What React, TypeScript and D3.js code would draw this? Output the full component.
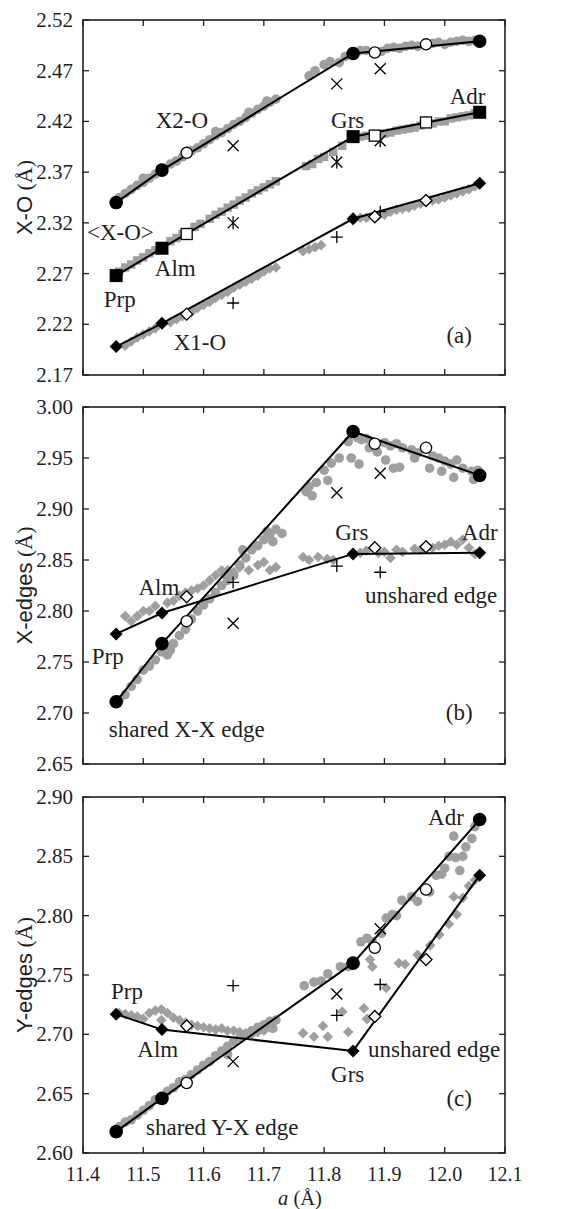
import React from "react";
import * as d3 from "d3";

type Pt = [number, number];

// lattice parameter a (Å) of the end-members Prp, Alm, Grs, Adr
const endA = [11.455, 11.531, 11.848, 12.058];
const openA = [11.572, 11.884, 11.969];
const crossA = [11.649, 11.821, 11.893];
const xTicks = [11.4, 11.5, 11.6, 11.7, 11.8, 11.9, 12.0, 12.1];
const xTickLabels = ["11.4", "11.5", "11.6", "11.7", "11.8", "11.9", "12.0", "12.1"];

// ---- panel (a) X-O
const aTicks = [2.17, 2.22, 2.27, 2.32, 2.37, 2.42, 2.47, 2.52];
const x2oFilled = [2.340, 2.372, 2.487, 2.499];
const x2oOpen = [2.389, 2.488, 2.496];
const x2oCross = [2.396, 2.457, 2.472];
const x2oGray: Pt[] = [
  [11.46, 2.345], [11.47, 2.349], [11.48, 2.353], [11.49, 2.357], [11.5, 2.36], [11.5, 2.364],
  [11.51, 2.364], [11.52, 2.368], [11.53, 2.374], [11.545, 2.378], [11.555, 2.381], [11.565, 2.385],
  [11.57, 2.39], [11.58, 2.391], [11.59, 2.394], [11.6, 2.398], [11.61, 2.402], [11.62, 2.406],
  [11.62, 2.41], [11.63, 2.409], [11.64, 2.413], [11.65, 2.417], [11.66, 2.42], [11.67, 2.424],
  [11.675, 2.429], [11.68, 2.428], [11.69, 2.432], [11.7, 2.435], [11.705, 2.44], [11.71, 2.439],
  [11.72, 2.442], [11.775, 2.465], [11.785, 2.47], [11.8, 2.476], [11.81, 2.479], [11.825, 2.478],
  [11.835, 2.484], [11.86, 2.49], [11.87, 2.49], [11.895, 2.489], [11.905, 2.492], [11.915, 2.493],
  [11.925, 2.492], [11.935, 2.494], [11.945, 2.495], [11.955, 2.494], [11.98, 2.497], [11.99, 2.498],
  [12.0, 2.496], [12.01, 2.498], [12.02, 2.499], [12.03, 2.5], [12.04, 2.499], [12.05, 2.5],
];
const xoFilled = [2.268, 2.295, 2.405, 2.429];
const xoOpen = [2.309, 2.406, 2.419];
const xoStar = [2.32, 2.38, 2.401];
const xoGray: Pt[] = [
  [11.46, 2.272], [11.47, 2.276], [11.48, 2.279], [11.49, 2.283], [11.5, 2.286], [11.51, 2.29],
  [11.52, 2.293], [11.545, 2.302], [11.555, 2.305], [11.565, 2.309], [11.585, 2.316], [11.595, 2.319],
  [11.61, 2.324], [11.62, 2.328], [11.63, 2.331], [11.64, 2.335], [11.65, 2.338], [11.66, 2.342],
  [11.67, 2.345], [11.68, 2.349], [11.69, 2.352], [11.7, 2.355], [11.71, 2.358], [11.72, 2.361],
  [11.77, 2.376], [11.78, 2.378], [11.79, 2.383], [11.8, 2.385], [11.815, 2.39], [11.83, 2.396],
  [11.86, 2.405], [11.87, 2.406], [11.89, 2.405], [11.9, 2.408], [11.91, 2.409], [11.92, 2.411],
  [11.93, 2.412], [11.94, 2.413], [11.95, 2.414], [11.96, 2.416], [11.98, 2.418], [11.99, 2.42],
  [12.0, 2.42], [12.01, 2.423], [12.02, 2.424], [12.03, 2.425], [12.04, 2.426], [12.05, 2.428],
];
const x1oFilled = [2.198, 2.221, 2.324, 2.359];
const x1oOpen = [2.23, 2.326, 2.342];
const x1oPlus = [2.241, 2.306, 2.331];
const x1oGray: Pt[] = [
  [11.47, 2.199], [11.48, 2.203], [11.49, 2.207], [11.5, 2.21], [11.51, 2.213], [11.52, 2.216],
  [11.545, 2.222], [11.555, 2.225], [11.565, 2.228], [11.58, 2.232], [11.59, 2.236], [11.6, 2.239],
  [11.61, 2.242], [11.62, 2.246], [11.63, 2.249], [11.64, 2.252], [11.65, 2.256], [11.66, 2.259],
  [11.67, 2.262], [11.68, 2.265], [11.69, 2.268], [11.7, 2.272], [11.71, 2.275], [11.72, 2.276],
  [11.765, 2.292], [11.775, 2.294], [11.785, 2.296], [11.795, 2.298], [11.86, 2.325], [11.87, 2.325],
  [11.89, 2.327], [11.9, 2.328], [11.91, 2.331], [11.92, 2.333], [11.93, 2.334], [11.94, 2.335],
  [11.95, 2.337], [11.96, 2.339], [11.98, 2.342], [11.99, 2.343], [12.0, 2.345], [12.01, 2.347],
  [12.02, 2.349], [12.03, 2.351], [12.04, 2.353], [12.05, 2.356],
];

// ---- panel (b) X-edges
const bTicks = [2.65, 2.7, 2.75, 2.8, 2.85, 2.9, 2.95, 3.0];
const sharedXFilled = [2.711, 2.768, 2.976, 2.933];
const sharedXOpen = [2.79, 2.964, 2.96];
const sharedXCross = [2.788, 2.916, 2.935];
const sharedXGray: Pt[] = [
  [11.46, 2.713], [11.47, 2.718], [11.48, 2.726], [11.49, 2.733], [11.5, 2.742], [11.51, 2.746],
  [11.52, 2.752], [11.53, 2.76], [11.54, 2.757], [11.545, 2.762], [11.55, 2.768], [11.56, 2.776],
  [11.57, 2.782], [11.58, 2.792], [11.59, 2.8], [11.6, 2.806], [11.61, 2.812], [11.62, 2.818],
  [11.63, 2.825], [11.635, 2.836], [11.64, 2.83], [11.65, 2.835], [11.66, 2.845], [11.665, 2.86],
  [11.67, 2.852], [11.68, 2.86], [11.69, 2.864], [11.7, 2.87], [11.705, 2.878], [11.71, 2.875],
  [11.715, 2.868], [11.72, 2.88], [11.73, 2.876], [11.77, 2.917], [11.775, 2.922], [11.78, 2.913],
  [11.787, 2.926], [11.8, 2.938], [11.806, 2.928], [11.812, 2.945], [11.825, 2.95], [11.84, 2.966],
  [11.845, 2.95], [11.855, 2.97], [11.858, 2.944], [11.862, 2.968], [11.87, 2.969], [11.875, 2.96],
  [11.888, 2.956], [11.9, 2.965], [11.902, 2.948], [11.91, 2.962], [11.915, 2.94], [11.92, 2.964],
  [11.925, 2.941], [11.93, 2.96], [11.945, 2.958], [11.95, 2.95], [11.955, 2.955], [11.975, 2.94],
  [11.98, 2.952], [11.99, 2.95], [11.995, 2.937], [12.0, 2.947], [12.01, 2.944], [12.015, 2.931],
  [12.02, 2.948], [12.03, 2.94], [12.045, 2.937], [12.048, 2.929], [12.055, 2.938],
];
const unsharedXFilled = [2.7775, 2.798, 2.856, 2.857];
const unsharedXOpen = [2.814, 2.862, 2.863];
const unsharedXPlus = [2.828, 2.844, 2.838];
const unsharedXGray: Pt[] = [
  [11.47, 2.795], [11.48, 2.79], [11.49, 2.795], [11.5, 2.8], [11.51, 2.8], [11.52, 2.805],
  [11.54, 2.808], [11.55, 2.81], [11.56, 2.815], [11.57, 2.818], [11.58, 2.82], [11.59, 2.822],
  [11.6, 2.825], [11.61, 2.83], [11.62, 2.835], [11.63, 2.84], [11.64, 2.84], [11.65, 2.838],
  [11.66, 2.843], [11.675, 2.84], [11.69, 2.845], [11.7, 2.848], [11.71, 2.84], [11.72, 2.843],
  [11.765, 2.853], [11.775, 2.85], [11.79, 2.853], [11.805, 2.851], [11.815, 2.85], [11.86, 2.857],
  [11.87, 2.859], [11.89, 2.857], [11.9, 2.858], [11.91, 2.852], [11.92, 2.86], [11.93, 2.858],
  [11.95, 2.861], [11.96, 2.86], [11.98, 2.862], [11.99, 2.864], [12.0, 2.865], [12.01, 2.868],
  [12.02, 2.865], [12.03, 2.87], [12.04, 2.862], [12.05, 2.856],
];

// ---- panel (c) Y-edges
const cTicks = [2.6, 2.65, 2.7, 2.75, 2.8, 2.85, 2.9];
const sharedYFilled = [2.618, 2.646, 2.76, 2.881];
const sharedYOpen = [2.659, 2.773, 2.822];
const sharedYCross = [2.677, 2.734, 2.789];
const sharedYGray: Pt[] = [
  [11.46, 2.622], [11.47, 2.626], [11.48, 2.628], [11.49, 2.632], [11.5, 2.636], [11.51, 2.64],
  [11.52, 2.645], [11.54, 2.652], [11.55, 2.655], [11.56, 2.66], [11.57, 2.662], [11.58, 2.666],
  [11.59, 2.67], [11.6, 2.674], [11.61, 2.677], [11.62, 2.682], [11.63, 2.686], [11.64, 2.683],
  [11.64, 2.69], [11.65, 2.694], [11.66, 2.697], [11.67, 2.7], [11.68, 2.703], [11.69, 2.706],
  [11.7, 2.708], [11.71, 2.711], [11.715, 2.705], [11.72, 2.712], [11.767, 2.741], [11.783, 2.744],
  [11.795, 2.745], [11.806, 2.751], [11.827, 2.757], [11.84, 2.757], [11.861, 2.778], [11.871, 2.781],
  [11.88, 2.778], [11.895, 2.785], [11.903, 2.798], [11.913, 2.801], [11.92, 2.8], [11.929, 2.813],
  [11.945, 2.816], [11.955, 2.812], [11.975, 2.82], [11.986, 2.834], [11.995, 2.835], [12.0, 2.84],
  [12.007, 2.85], [12.015, 2.867], [12.018, 2.849], [12.025, 2.838], [12.03, 2.85], [12.035, 2.858],
  [12.045, 2.865], [12.05, 2.875],
];
const unsharedYFilled = [2.717, 2.704, 2.686, 2.834];
const unsharedYOpen = [2.707, 2.715, 2.763];
const unsharedYPlus = [2.741, 2.716, 2.742];
const unsharedYGray: Pt[] = [
  [11.46, 2.718], [11.47, 2.717], [11.48, 2.716], [11.49, 2.715], [11.5, 2.713], [11.51, 2.718],
  [11.52, 2.72], [11.53, 2.721], [11.53, 2.712], [11.54, 2.718], [11.55, 2.714], [11.56, 2.712],
  [11.57, 2.71], [11.58, 2.708], [11.59, 2.707], [11.6, 2.706], [11.61, 2.705], [11.62, 2.704],
  [11.63, 2.705], [11.64, 2.703], [11.65, 2.703], [11.66, 2.702], [11.67, 2.701], [11.68, 2.7],
  [11.69, 2.702], [11.7, 2.703], [11.71, 2.706], [11.765, 2.701], [11.783, 2.698], [11.798, 2.707],
  [11.806, 2.698], [11.83, 2.719], [11.84, 2.702], [11.866, 2.722], [11.871, 2.713], [11.876, 2.763],
  [11.88, 2.757], [11.903, 2.739], [11.924, 2.76], [11.934, 2.759], [11.955, 2.767], [11.976, 2.775],
  [11.991, 2.784], [12.007, 2.793], [12.015, 2.816], [12.02, 2.801], [12.03, 2.815], [12.04, 2.825],
  [12.05, 2.83],
];

const GRAY = "#9f9f9f";
const INK = "#1e1e1e";
const SERIF = "Liberation Serif";
const SANS = "Liberation Sans";

const x = d3.scaleLinear().domain([11.4, 12.1]).range([83, 505]);

type Group = {
  gray: Pt[]; grayShape: string;
  filled: number[]; filledShape: string;
  open: number[]; openShape: string;
  marks: number[]; markShape: string;
};
type Label = { t: string; a: number; v: number; anchor?: string };

const panels = [
  {
    id: "a", domain: [2.17, 2.52], range: [375, 20], ticks: aTicks, title: "X-O",
    groups: [
      { gray: x2oGray, grayShape: "gdot", filled: x2oFilled, filledShape: "circle", open: x2oOpen, openShape: "ocircle", marks: x2oCross, markShape: "x" },
      { gray: xoGray, grayShape: "gsq", filled: xoFilled, filledShape: "square", open: xoOpen, openShape: "osquare", marks: xoStar, markShape: "star" },
      { gray: x1oGray, grayShape: "gdia", filled: x1oFilled, filledShape: "diamond", open: x1oOpen, openShape: "odiamond", marks: x1oPlus, markShape: "plus" },
    ] as Group[],
    labels: [
      { t: "X2-O", a: 11.564, v: 2.414 }, { t: "Grs", a: 11.839, v: 2.414 }, { t: "Adr", a: 12.038, v: 2.437 },
      { t: "<X-O>", a: 11.462, v: 2.303 }, { t: "Alm", a: 11.553, v: 2.268 }, { t: "Prp", a: 11.461, v: 2.237 },
      { t: "X1-O", a: 11.594, v: 2.195 }, { t: "(a)", a: 12.024, v: 2.202 },
    ] as Label[],
  },
  {
    id: "b", domain: [2.65, 3.0], range: [764, 407], ticks: bTicks, title: "X-edges",
    groups: [
      { gray: sharedXGray, grayShape: "gdot", filled: sharedXFilled, filledShape: "circle", open: sharedXOpen, openShape: "ocircle", marks: sharedXCross, markShape: "x" },
      { gray: unsharedXGray, grayShape: "gdia", filled: unsharedXFilled, filledShape: "diamond", open: unsharedXOpen, openShape: "odiamond", marks: unsharedXPlus, markShape: "plus" },
    ] as Group[],
    labels: [
      { t: "Grs", a: 11.846, v: 2.870 }, { t: "Adr", a: 12.058, v: 2.870 }, { t: "Alm", a: 11.526, v: 2.816 },
      { t: "Prp", a: 11.441, v: 2.748 }, { t: "unshared edge", a: 12.087, v: 2.808, anchor: "end" },
      { t: "shared X-X edge", a: 11.572, v: 2.676 }, { t: "(b)", a: 12.024, v: 2.693 },
    ] as Label[],
  },
  {
    id: "c", domain: [2.6, 2.9], range: [1153, 797], ticks: cTicks, title: "Y-edges",
    groups: [
      { gray: sharedYGray, grayShape: "gdot", filled: sharedYFilled, filledShape: "circle", open: sharedYOpen, openShape: "ocircle", marks: sharedYCross, markShape: "x" },
      { gray: unsharedYGray, grayShape: "gdia", filled: unsharedYFilled, filledShape: "diamond", open: unsharedYOpen, openShape: "odiamond", marks: unsharedYPlus, markShape: "plus" },
    ] as Group[],
    labels: [
      { t: "Adr", a: 12.002, v: 2.876 }, { t: "Prp", a: 11.473, v: 2.730 }, { t: "Alm", a: 11.524, v: 2.681 },
      { t: "Grs", a: 11.839, v: 2.660 }, { t: "unshared edge", a: 12.092, v: 2.681, anchor: "end" },
      { t: "shared Y-X edge", a: 11.631, v: 2.615 }, { t: "(c)", a: 12.024, v: 2.640 },
    ] as Label[],
  },
];

function marker(shape: string, cx: number, cy: number, key: string) {
  const sw = 1.3;
  switch (shape) {
    case "gdot":
      return <circle key={key} cx={cx} cy={cy} r={4.8} fill={GRAY} />;
    case "gsq":
      return <rect key={key} x={cx - 4.2} y={cy - 4.2} width={8.4} height={8.4} fill={GRAY} />;
    case "gdia": {
      const h = 5.3;
      return <path key={key} d={`M${cx},${cy - h}L${cx + h},${cy}L${cx},${cy + h}L${cx - h},${cy}Z`} fill={GRAY} />;
    }
    case "circle":
      return <circle key={key} cx={cx} cy={cy} r={6.8} fill="#000" />;
    case "ocircle":
      return <circle key={key} cx={cx} cy={cy} r={5.6} fill="#fff" stroke="#000" strokeWidth={sw} />;
    case "square":
      return <rect key={key} x={cx - 6.5} y={cy - 6.5} width={13} height={13} fill="#000" />;
    case "osquare":
      return <rect key={key} x={cx - 5.5} y={cy - 5.5} width={11} height={11} fill="#fff" stroke="#000" strokeWidth={sw} />;
    case "diamond": {
      const h = 6.5;
      return <path key={key} d={`M${cx},${cy - h}L${cx + h},${cy}L${cx},${cy + h}L${cx - h},${cy}Z`} fill="#000" />;
    }
    case "odiamond": {
      const h = 6;
      return <path key={key} d={`M${cx},${cy - h}L${cx + h},${cy}L${cx},${cy + h}L${cx - h},${cy}Z`} fill="#fff" stroke="#000" strokeWidth={sw} />;
    }
    case "x": {
      const h = 5.5;
      return <path key={key} d={`M${cx - h},${cy - h}L${cx + h},${cy + h}M${cx - h},${cy + h}L${cx + h},${cy - h}`} stroke="#000" strokeWidth={sw} fill="none" />;
    }
    case "plus": {
      const h = 6;
      return <path key={key} d={`M${cx - h},${cy}L${cx + h},${cy}M${cx},${cy - h}L${cx},${cy + h}`} stroke="#000" strokeWidth={sw} fill="none" />;
    }
    case "star": {
      const h = 5.5;
      return <path key={key} d={`M${cx - h},${cy - h}L${cx + h},${cy + h}M${cx - h},${cy + h}L${cx + h},${cy - h}M${cx},${cy - h - 1}L${cx},${cy + h + 1}`} stroke="#000" strokeWidth={sw} fill="none" />;
    }
  }
  return null;
}

function Panel({ p }: { p: (typeof panels)[number] }) {
  const y = d3.scaleLinear().domain(p.domain).range(p.range);
  const [x0, x1] = x.range();
  const yTop = p.range[1];
  const yBot = p.range[0];
  const line = d3.line<[number, number]>().x((d) => x(d[0])).y((d) => y(d[1]));
  const tl = 6;
  return (
    <g>
      {p.groups.map((g, gi) => (
        <g key={"g" + gi}>{g.gray.map((d, i) => marker(g.grayShape, x(d[0]), y(d[1]), "gr" + i))}</g>
      ))}
      {p.groups.map((g, gi) => (
        <path key={"l" + gi} d={line(endA.map((a, i) => [a, g.filled[i]]))!} fill="none" stroke="#000" strokeWidth={2} />
      ))}
      {p.groups.map((g, gi) => (
        <g key={"m" + gi}>
          {g.marks.map((v, i) => marker(g.markShape, x(crossA[i]), y(v), "mk" + i))}
          {g.open.map((v, i) => marker(g.openShape, x(openA[i]), y(v), "op" + i))}
          {g.filled.map((v, i) => marker(g.filledShape, x(endA[i]), y(v), "fl" + i))}
        </g>
      ))}
      {/* frame and inward ticks */}
      <rect x={x0} y={yTop} width={x1 - x0} height={yBot - yTop} fill="none" stroke={INK} strokeWidth={1.6} />
      {xTicks.map((t, i) => (
        <g key={"xt" + i} stroke={INK} strokeWidth={1.3}>
          <line x1={x(t)} x2={x(t)} y1={yBot} y2={yBot - tl} />
          <line x1={x(t)} x2={x(t)} y1={yTop} y2={yTop + tl} />
        </g>
      ))}
      {p.ticks.map((t, i) => (
        <g key={"yt" + i}>
          <line x1={x0} x2={x0 + tl} y1={y(t)} y2={y(t)} stroke={INK} strokeWidth={1.3} />
          <line x1={x1} x2={x1 - tl} y1={y(t)} y2={y(t)} stroke={INK} strokeWidth={1.3} />
          <text x={73} y={y(t) + 7} textAnchor="end" fontFamily={SERIF} fontSize={21} fill={INK}>
            {t.toFixed(2)}
          </text>
        </g>
      ))}
      {p.labels.map((l, i) => (
        <text key={"lb" + i} x={x(l.a)} y={y(l.v)} textAnchor={l.anchor || "middle"} fontFamily={SERIF} fontSize={23} fill={INK}>
          {l.t}
        </text>
      ))}
      <text transform={`translate(32,${(yTop + yBot) / 2}) rotate(-90)`} textAnchor="middle" fontSize={22} fill={INK}>
        <tspan fontFamily={SANS}>{p.title}</tspan>
        <tspan fontFamily={SERIF}> (Å)</tspan>
      </text>
    </g>
  );
}

export default function App() {
  return (
    <svg width={567} height={1209} style={{ position: "absolute", left: 0, top: 0, background: "#fff" }}>
      <rect width={567} height={1209} fill="#fff" />
      {panels.map((p) => (
        <Panel key={p.id} p={p} />
      ))}
      {xTicks.map((t, i) => (
        <text key={"xl" + i} x={x(t)} y={1181} textAnchor="middle" fontFamily={SERIF} fontSize={20} fill={INK}>
          {xTickLabels[i]}
        </text>
      ))}
      <text x={300} y={1204.5} textAnchor="middle" fontFamily={SERIF} fontSize={20.5} fill={INK}>
        <tspan fontStyle="italic">a</tspan>
        <tspan>{"  (Å)"}</tspan>
      </text>
    </svg>
  );
}
